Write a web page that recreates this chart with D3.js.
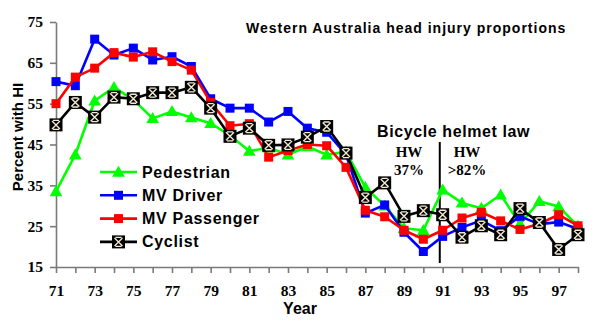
<!DOCTYPE html>
<html><head><meta charset="utf-8">
<script src="https://cdn.jsdelivr.net/npm/d3@7"></script>
<style>body{margin:0;background:#fff}svg{display:block}</style>
</head><body><svg id="c" width="600" height="325"></svg>
<script>
const years = [71,72,73,74,75,76,77,78,79,80,81,82,83,84,85,86,87,88,89,90,91,92,93,94,95,96,97,98];
const pedestrian = [33.5,42.5,55.7,59.0,56.0,51.4,53.1,51.6,50.2,47.2,43.4,44.2,42.5,44.5,42.5,43.2,34.5,30.0,24.5,24.0,33.9,30.7,29.4,32.7,25.5,31.1,29.8,25.0];
const mvDriver = [60.4,59.4,70.8,66.9,68.6,65.7,66.5,64.1,56.2,53.9,53.9,50.5,53.1,49.0,48.0,42.5,28.2,30.2,23.5,18.8,22.5,24.7,26.4,23.9,27.4,25.5,26.0,24.3];
const mvPassenger = [55.0,61.5,63.7,67.5,66.4,67.7,65.3,63.2,55.3,49.6,50.1,41.9,43.5,45.0,44.7,39.4,28.9,27.3,24.0,21.8,24.0,27.0,28.4,26.3,24.2,25.6,27.8,25.1];
const cyclist = [49.8,55.3,51.7,56.6,56.2,57.7,57.7,59.0,53.9,47.0,49.0,44.8,44.9,46.8,49.4,42.9,32.0,35.6,27.4,28.8,27.8,22.3,25.1,22.9,29.3,25.9,19.3,22.9];
const yTicks = [15,25,35,45,55,65,75];
const xLabels = [71,73,75,77,79,81,83,85,87,89,91,93,95,97];
const seriesNames = ["Pedestrian","MV Driver","MV Passenger","Cyclist"];
const lawYear = 90.85;

const svg = d3.select("#c");
const x = d3.scaleLinear().domain([71,98]).range([56,578]);
const y = d3.scaleLinear().domain([15,75]).range([267,22]);

const series = [
  {name:seriesNames[0], vals:pedestrian, color:"#00ff00", marker:"tri"},
  {name:seriesNames[1], vals:mvDriver, color:"#0000ff", marker:"sq"},
  {name:seriesNames[2], vals:mvPassenger, color:"#ff0000", marker:"sq"},
  {name:seriesNames[3], vals:cyclist, color:"#000000", marker:"cyc"}
];

// axes
const xAxis = d3.axisBottom(x).tickValues(years).tickSize(6).tickSizeOuter(0).tickPadding(12)
  .tickFormat(d => xLabels.includes(d) ? String(d) : "");
const yAxis = d3.axisLeft(y).tickValues(yTicks).tickSize(6).tickSizeOuter(0).tickPadding(7);
const gx = svg.append("g").attr("transform",`translate(0,${y(15)})`).call(xAxis);
const gy = svg.append("g").attr("transform",`translate(${x(71)},0)`).call(yAxis);
[gx,gy].forEach(g=>{
  g.selectAll("path,line").attr("stroke","#7a7a7a").attr("stroke-width",1.6);
  g.selectAll("text").attr("font-family","'Liberation Serif','Times New Roman',serif")
    .attr("font-weight","bold").attr("font-size",15.5).attr("fill","#000");
});

// law line
svg.append("line").attr("x1",x(lawYear)).attr("x2",x(lawYear)).attr("y1",142).attr("y2",263)
  .attr("stroke","#000").attr("stroke-width",2);

function drawMarker(g, type, color, cx, cy){
  if(type==="tri"){
    g.append("path").attr("d",d3.symbol(d3.symbolTriangle,70)()).attr("transform",`translate(${cx},${cy+1})`).attr("fill",color);
  } else if(type==="sq"){
    g.append("rect").attr("x",cx-4.5).attr("y",cy-4.5).attr("width",9).attr("height",9).attr("fill",color);
  } else {
    g.append("rect").attr("x",cx-6.5).attr("y",cy-6.5).attr("width",13).attr("height",13).attr("fill","#000");
    const c="#f3ead2";
    g.append("path").attr("d",`M${cx-4},${cy-4}L${cx+4},${cy+4}M${cx+4},${cy-4}L${cx-4},${cy+4}M${cx-3},${cy-4.5}L${cx+3},${cy-4.5}M${cx-3},${cy+4.5}L${cx+3},${cy+4.5}`)
      .attr("stroke",c).attr("stroke-width",1.4).attr("fill","none");
  }
}

const line = d3.line().x((d,i)=>x(years[i])).y(d=>y(d));
series.forEach(s=>{
  const g = svg.append("g");
  g.append("path").datum(s.vals).attr("d",line).attr("fill","none").attr("stroke",s.color).attr("stroke-width",2.6).attr("stroke-linejoin","round");
  s.vals.forEach((v,i)=>drawMarker(g,s.marker,s.color,x(years[i]),y(v)));
});

// legend
const lg = svg.append("g");
series.forEach((s,i)=>{
  const ly = 172 + i*23.3;
  lg.append("line").attr("x1",100).attr("x2",137).attr("y1",ly).attr("y2",ly).attr("stroke",s.color).attr("stroke-width",2.6);
  drawMarker(lg,s.marker,s.color,118.5,ly);
  lg.append("text").attr("x",142).attr("y",ly+5.5).text(s.name)
    .attr("font-family","'Liberation Sans',Arial,sans-serif").attr("font-weight","bold").attr("font-size",16).attr("letter-spacing",0.7);
});

// texts
const sans = "'Liberation Sans',Arial,sans-serif", serif="'Liberation Serif','Times New Roman',serif";
svg.append("text").attr("x",246).attr("y",33).text("Western Australia head injury proportions")
  .attr("font-family",sans).attr("font-weight","bold").attr("font-size",14).attr("letter-spacing",1);
svg.append("text").attr("x",377).attr("y",137).text("Bicycle helmet law")
  .attr("font-family",sans).attr("font-weight","bold").attr("font-size",16).attr("letter-spacing",0.6);
[["HW",409,157],["37%",409,175],["HW",467,157],[">82%",467,175]].forEach(t=>{
  svg.append("text").attr("x",t[1]).attr("y",t[2]).attr("text-anchor","middle").text(t[0])
    .attr("font-family",serif).attr("font-weight","bold").attr("font-size",15);
});
svg.append("text").attr("x",300).attr("y",314).attr("text-anchor","middle").text("Year")
  .attr("font-family",sans).attr("font-weight","bold").attr("font-size",16);
svg.append("text").attr("transform","translate(23,137) rotate(-90)").attr("text-anchor","middle").text("Percent with HI")
  .attr("font-family",sans).attr("font-weight","bold").attr("font-size",15);
</script></body></html>
